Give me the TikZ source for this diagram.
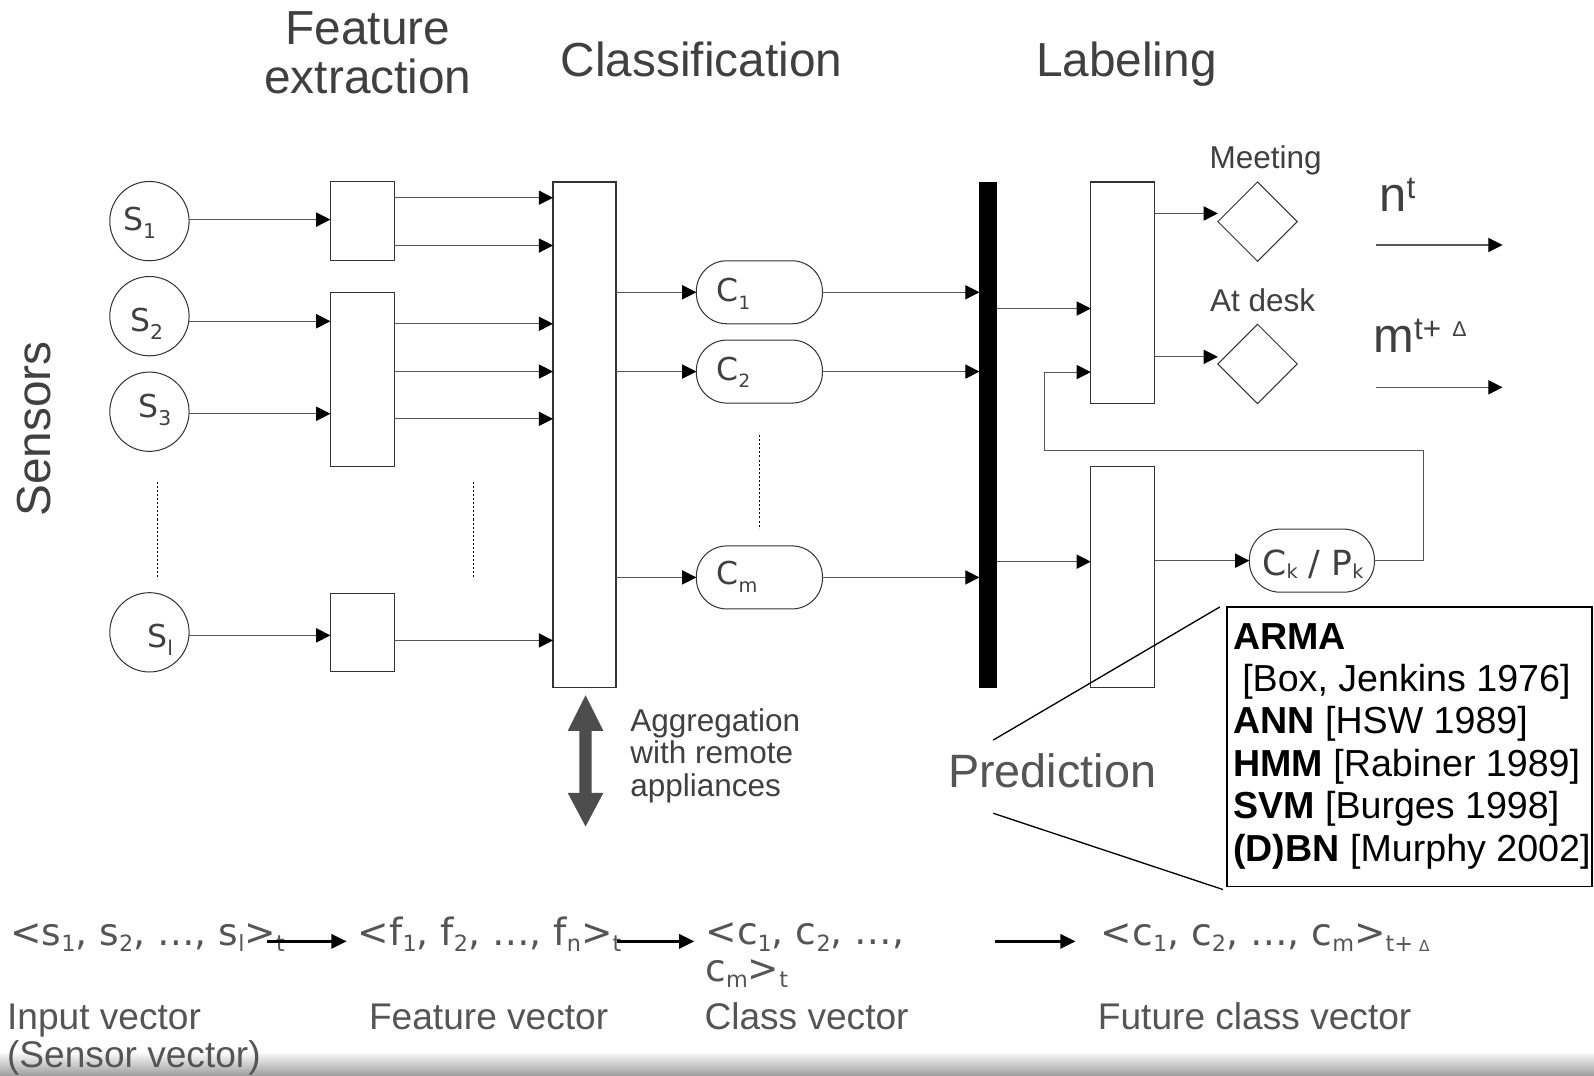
\documentclass[tikz,border=0pt]{standalone}
\usepackage{fontspec}
\setmainfont{Liberation Sans}
\newfontfamily\vfont{DejaVu Sans}
\usetikzlibrary{arrows.meta,shapes.geometric,calc}

\definecolor{ink}{HTML}{404040}
\definecolor{soft}{HTML}{555555}
\definecolor{edge}{HTML}{333333}
\definecolor{wire}{HTML}{555555}
\definecolor{aggr}{HTML}{4D4D4D}

% font size helper and raised / lowered small text
\newcommand\fsz[1]{\fontsize{#1}{#1}\selectfont}
\newcommand\lo[3]{\raisebox{-#2pt}{\fsz{#1}#3}}
\newcommand\hi[3]{\raisebox{#2pt}{\fsz{#1}#3}}
\newcommand\vs[1]{\lo{22}{6}{#1}}

\begin{document}
\begin{tikzpicture}[x=1pt,y=-1pt,
  every node/.style={inner sep=0pt, outer sep=0pt},
  box/.style={draw=edge, line width=1.2pt, minimum width=63pt},
  sensor/.style={circle, draw=edge, line width=1pt, minimum size=78pt},
  pill/.style={draw=edge, line width=1pt, rounded corners=30pt, minimum width=124pt, minimum height=62pt},
  choice/.style={diamond, draw=edge, line width=1pt, minimum width=78pt, minimum height=78pt},
  arr/.style={draw=wire, line width=1pt, -{Triangle[length=14pt,width=14pt,color=black]}},
  vecarr/.style={draw=black, line width=2.5pt, -{Triangle[length=15pt,width=14pt]}},
  dots/.style={draw=black, line width=0.8pt, dash pattern=on 2pt off 2pt},
  title/.style={font=\fsz{47}, text=ink, anchor=base},
  lbl/.style={font=\vfont\fsz{31}, text=ink, anchor=base west},
  small/.style={font=\fsz{31}, text=ink, anchor=base},
  vtext/.style={font=\vfont\fsz{37}, text=soft, anchor=base west},
  caption/.style={font=\fsz{36.5}, text=soft, anchor=base west},
]
\useasboundingbox (0,0) rectangle (1568,1058);
\fill[white] (0,0) rectangle (1568,1058);
\shade[top color=white, bottom color=black!38] (0,1034) rectangle (1568,1058);

% column titles
\node[title] (tfe1) at (362,44) {Feature};
\node[title] (tfe2) at (362,92) {extraction};
\node[title] (tcls) at (690,75) {Classification};
\node[title] (tlab) at (1108,75) {Labeling};
\node[title, rotate=90] (tsen) at (50,422) {Sensors};

% sensors
\node[sensor] (s1) at (147,217.5) {};
\node[sensor] (s2) at (147,311) {};
\node[sensor] (s3) at (147,405) {};
\node[sensor] (sl) at (147,622) {};
\node[lbl] (s1t) at (121,227) {S\lo{20}{8}{1}};
\node[lbl] (s2t) at (128,326) {S\lo{20}{8}{2}};
\node[lbl] (s3t) at (136,411) {S\lo{20}{8}{3}};
\node[lbl] (slt) at (145,637) {S\lo{20}{8}{l}};

% feature extraction
\node[box, minimum height=77.5pt] (fe1) at (356.5,217.5) {};
\node[box, minimum height=171pt] (fe2) at (356.5,373) {};
\node[box, minimum height=77pt] (fe3) at (356.5,622) {};

% classification
\node[box, minimum width=62pt, minimum height=497pt] (cls) at (575,427.5) {};
\node[pill] (c1) at (747,287.5) {};
\node[pill] (c2) at (747,365.5) {};
\node[pill] (cm) at (747,568) {};
\node[lbl] (c1t) at (705,297) {C\lo{18}{7}{1}};
\node[lbl] (c2t) at (705,374) {C\lo{18}{7}{2}};
\node[lbl] (cmt) at (705,575) {C\lo{19}{8}{m}};

% labeling
\node[fill=black, minimum width=17pt, minimum height=498pt] (bar) at (972,428) {};
\node[box, minimum height=218pt] (lab1) at (1104.5,288) {};
\node[box, minimum height=217pt] (lab2) at (1104.5,567.5) {};
\node[choice] (md) at (1237,218) {};
\node[choice] (ad) at (1237,358) {};
\node[small] (mdt) at (1245,166) {Meeting};
\node[small] (adt) at (1242,306) {At desk};
\node[pill, minimum width=123pt] (ck) at (1290.5,551.5) {};
\node[lbl, font=\vfont\fsz{34}] (ckt) at (1242,566) {C\lo{19}{3}{k} / P\lo{19}{3}{k}};

% outputs
\node[font=\fsz{48}, text=ink, anchor=base west] (nt) at (1357,208) {n\hi{31}{13}{t}};
\node[font=\fsz{48}, text=ink, anchor=base west] (mt) at (1351,347) {m\hi{31}{13}{t+}\hspace{11pt}\hi{21}{16}{Δ}};
\coordinate (nta) at (1354,241);
\coordinate (ntb) at (1478,241);
\coordinate (mta) at (1354,381);
\coordinate (mtb) at (1478,381);
\draw[arr] (nta) -- (ntb);
\draw[arr] (mta) -- (mtb);

% sensor to feature connectors
\draw[arr] (s1.east |- 0,216) -- (fe1.west |- 0,216);
\draw[arr] (s2.east |- 0,316) -- (fe2.west |- 0,316);
\draw[arr] (s3.east |- 0,407) -- (fe2.west |- 0,407);
\draw[arr] (sl.east |- 0,625) -- (fe3.west |- 0,625);

% feature to classification connectors
\draw[arr] (fe1.east |- 0,194.5) -- (cls.west |- 0,194.5);
\draw[arr] (fe1.east |- 0,241.5) -- (cls.west |- 0,241.5);
\draw[arr] (fe2.east |- 0,318.5) -- (cls.west |- 0,318.5);
\draw[arr] (fe2.east |- 0,365.5) -- (cls.west |- 0,365.5);
\draw[arr] (fe2.east |- 0,412) -- (cls.west |- 0,412);
\draw[arr] (fe3.east |- 0,630) -- (cls.west |- 0,630);

% classifiers
\draw[arr] (cls.east |- c1) -- (c1);
\draw[arr] (cls.east |- c2) -- (c2);
\draw[arr] (cls.east |- cm) -- (cm);
\draw[arr] (c1) -- (bar.west |- c1);
\draw[arr] (c2) -- (bar.west |- c2);
\draw[arr] (cm) -- (bar.west |- cm);

% labeling connectors
\draw[arr] (bar.east |- 0,303.5) -- (lab1.west |- 0,303.5);
\draw[arr] (bar.east |- 0,552.5) -- (lab2.west |- 0,552.5);
\draw[arr] (lab1.east |- 0,210) -- (md.west |- 0,210);
\draw[arr] (lab1.east |- 0,351) -- (ad.west |- 0,351);
\draw[arr] (lab2.east |- ck) -- (ck);
\coordinate (fb1) at (1400,443);
\coordinate (fb2) at (1027,366);
\draw[arr] (ck.east) -| (fb1) -| (fb2) -- (lab1.west |- fb2);

% ellipsis markers
\coordinate (d1a) at (155,474); \coordinate (d1b) at (155,568);
\coordinate (d2a) at (466,474); \coordinate (d2b) at (466,568);
\coordinate (d3a) at (747,428); \coordinate (d3b) at (747,520);
\draw[dots] (d1a) -- (d1b);
\draw[dots] (d2a) -- (d2b);
\draw[dots] (d3a) -- (d3b);

% aggregation with remote appliances
\fill[aggr] (576,684) -- (593.5,719) -- (582,719) -- (582,780) -- (593.5,780)
  -- (576,813) -- (558.5,780) -- (570,780) -- (570,719) -- (558.5,719) -- cycle;
\node[font=\fontsize{31}{32}\selectfont, text=ink, align=left, anchor=north west] (agg) at (620,697)
  {Aggregation\\with remote\\appliances};

% prediction methods
\node[draw=black, line width=1.5pt, minimum width=359pt, minimum height=275pt] (pbox) at (1386.5,734.5) {};
\node[font=\fontsize{37}{41.7}\selectfont, text=black, align=left, anchor=north west] (ptxt)
  at ($(pbox.north west)+(6,16)$)
  {\textbf{ARMA}\\
   \hspace*{9pt}[Box, Jenkins 1976]\\
   \textbf{ANN} [HSW 1989]\\
   \textbf{HMM} [Rabiner 1989]\\
   \textbf{SVM} [Burges 1998]\\
   \textbf{(D)BN} [Murphy 2002]};
\node[font=\fsz{46}, text=soft, anchor=base] (pred) at (1035,775) {Prediction};
\coordinate (pr1) at (977,728);
\coordinate (pr2) at (977,800);
\draw[black, line width=1.3pt] (pr1) -- ($(pbox.north west)+(-7,0)$);
\draw[black, line width=1.3pt] (pr2) -- ($(pbox.south west)+(-4,3)$);

% vector notation
\node[vtext] (iv) at (10,930) {<s\vs{1}, s\vs{2}, …, s\vs{l}>\vs{t}};
\node[vtext] (fv) at (352,930) {<f\vs{1}, f\vs{2}, …, f\vs{n}>\vs{t}};
\node[vtext, font=\vfont\fontsize{37}{36}\selectfont, align=left, anchor=north west] (cv)
  at (694,908) {<c\vs{1}, c\vs{2}, …,\\c\vs{m}>\vs{t}};
\node[vtext] (fcv) at (1083,930) {<c\vs{1}, c\vs{2}, …, c\vs{m}>\vs{t+}\hspace{6pt}\lo{15}{6}{Δ}};
\coordinate (v1a) at (263,926); \coordinate (v1b) at (341,926);
\coordinate (v2a) at (607,926); \coordinate (v2b) at (683,926);
\coordinate (v3a) at (979,926); \coordinate (v3b) at (1058,926);
\draw[vecarr] (v1a) -- (v1b);
\draw[vecarr] (v2a) -- (v2b);
\draw[vecarr] (v3a) -- (v3b);

\node[caption] (ivl) at (7,1013) {Input vector};
\node[caption] (ivl2) at (7,1050) {(Sensor vector)};
\node[caption] (fvl) at (363,1013) {Feature vector};
\node[caption] (cvl) at (693,1013) {Class vector};
\node[caption] (fcvl) at (1080,1013) {Future class vector};
\end{tikzpicture}
\end{document}
